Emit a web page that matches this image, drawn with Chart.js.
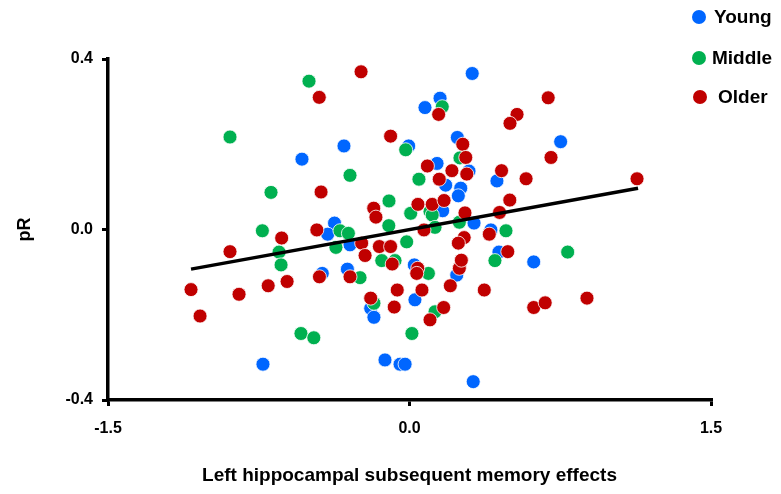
<!DOCTYPE html>
<html lang="en">
<head>
  <meta charset="UTF-8" />
  <title>pR vs left hippocampal subsequent memory effects</title>
  <script src="https://cdn.jsdelivr.net/npm/chart.js"></script>
  <style>
    body {
      margin: 0;
      background: #fff;
    }
    .wrap {
      width: 781px;
      height: 494px;
      position: relative;
    }
  </style>
</head>
<body>
  <div class="wrap">
    <canvas id="scatter"></canvas>
  </div>
  <script>
    // values
    const youngX = [-0.535, -0.326, -0.004, 0.077, 0.152, 0.312, 0.238, 0.137, 0.296, 0.435, 0.180, 0.255,
      0.243, 0.165, 0.321, 0.405, -0.373, -0.407, 0.752, -0.296, -0.434, -0.309, 0.024, 0.027,
      -0.193, -0.177, 0.235, 0.445, 0.618, -0.729, -0.122, -0.047, -0.022, 0.317];
    const youngY = [0.165, 0.196, 0.196, 0.286, 0.308, 0.366, 0.216, 0.155, 0.137, 0.114, 0.104, 0.097,
      0.079, 0.044, 0.015, -0.001, 0.015, -0.011, 0.206, -0.036, -0.103, -0.093, -0.083, -0.165,
      -0.185, -0.206, -0.107, -0.053, -0.076, -0.316, -0.306, -0.316, -0.316, -0.357];

    const middleX = [-0.500, -0.893, -0.689, -0.732, 0.163, -0.019, 0.251, -0.296, 0.047, -0.102, 0.006, 0.102,
      0.113, 0.248, 0.480, -0.103, -0.346, -0.304, 0.127, -0.014, -0.649, -0.639, -0.366, -0.138,
      -0.072, -0.246, 0.094, -0.177, 0.127, 0.425, 0.787, -0.540, -0.476, 0.012];
    const middleY = [0.348, 0.217, 0.087, -0.003, 0.288, 0.187, 0.168, 0.127, 0.118, 0.067, 0.038, 0.042,
      0.034, 0.017, -0.003, 0.009, -0.003, -0.009, 0.005, -0.029, -0.053, -0.083, -0.042, -0.073,
      -0.073, -0.113, -0.103, -0.173, -0.193, -0.073, -0.053, -0.244, -0.254, -0.244];

    const olderX = [-0.449, -0.241, 0.145, 0.535, 0.500, 0.690, -0.094, 0.265, 0.280, 0.089, 0.211, 0.285,
      0.458, 0.148, 0.580, 0.704, 1.132, -0.440, 0.499, -0.178, -0.167, 0.042, 0.113, 0.172,
      0.276, 0.448, -0.461, -0.636, 0.072, 0.397, 0.272, -0.893, -1.087, -1.042, -0.848, -0.703,
      -0.609, -0.448, -0.238, -0.221, -0.150, -0.094, -0.086, -0.296, 0.041, 0.036, -0.061, 0.062,
      -0.193, -0.076, 0.170, 0.102, 0.203, 0.248, 0.258, 0.243, 0.372, 0.489, 0.618, 0.675, 0.883];
    const olderY = [0.310, 0.370, 0.270, 0.270, 0.249, 0.309, 0.219, 0.200, 0.169, 0.149, 0.138, 0.130,
      0.138, 0.118, 0.119, 0.169, 0.119, 0.088, 0.069, 0.050, 0.029, 0.059, 0.059, 0.068,
      0.039, 0.040, -0.001, -0.020, -0.001, -0.011, -0.019, -0.052, -0.141, -0.203, -0.152, -0.132,
      -0.122, -0.111, -0.032, -0.061, -0.040, -0.040, -0.081, -0.111, -0.091, -0.103, -0.142, -0.142,
      -0.161, -0.182, -0.183, -0.212, -0.132, -0.091, -0.072, -0.032, -0.142, -0.052, -0.183, -0.172, -0.161];

    // regression line end points
    const fitX = [-1.087, 1.137];
    const fitY = [-0.093, 0.097];

    const xTicks = [-1.5, 0, 1.5];
    const yTicks = [-0.4, 0, 0.4];

    const groups = ['Young', 'Middle', 'Older'];
    const colors = ['#0066ff', '#00b050', '#c00000'];

    function pts(xs, ys) {
      return xs.map((x, i) => ({ x: x, y: ys[i] }));
    }

    const FONT = 'Arial, "Liberation Sans", sans-serif';

    // legend in the top right corner, stacked
    const sideLegend = {
      id: 'sideLegend',
      afterDraw(chart) {
        const ctx = chart.ctx;
        const rows = [
          { cy: 17, dx: 699, tx: 714 },
          { cy: 58, dx: 699, tx: 712 },
          { cy: 97, dx: 700, tx: 718 }
        ];
        ctx.save();
        ctx.font = 'bold 19px ' + FONT;
        ctx.textBaseline = 'middle';
        ctx.textAlign = 'left';
        groups.forEach((g, i) => {
          ctx.beginPath();
          ctx.arc(rows[i].dx, rows[i].cy, 7, 0, Math.PI * 2);
          ctx.fillStyle = colors[i];
          ctx.fill();
          ctx.fillStyle = '#000';
          ctx.fillText(g, rows[i].tx, rows[i].cy + 1);
        });
        ctx.restore();
      }
    };

    const dot = {
      showLine: false,
      pointRadius: 7,
      pointHoverRadius: 7,
      pointBorderWidth: 0.8,
      pointBorderColor: '#ffffff'
    };

    new Chart(document.getElementById('scatter'), {
      type: 'scatter',
      data: {
        datasets: [
          Object.assign({ label: groups[0], data: pts(youngX, youngY), backgroundColor: colors[0], order: 3 }, dot),
          Object.assign({ label: groups[1], data: pts(middleX, middleY), backgroundColor: colors[1], order: 2 }, dot),
          Object.assign({ label: groups[2], data: pts(olderX, olderY), backgroundColor: colors[2], order: 1 }, dot),
          {
            label: 'fit',
            data: pts(fitX, fitY),
            showLine: true,
            borderColor: '#000',
            borderWidth: 3.5,
            pointRadius: 0,
            order: 0
          }
        ]
      },
      options: {
        responsive: true,
        maintainAspectRatio: false,
        animation: false,
        layout: { padding: { top: 59, right: 70, left: 0, bottom: 0 } },
        plugins: {
          legend: { display: false },
          tooltip: { enabled: false }
        },
        scales: {
          x: {
            type: 'linear',
            min: -1.5,
            max: 1.5,
            afterBuildTicks: (s) => { s.ticks = xTicks.map(v => ({ value: v })); },
            afterFit: (s) => { s.height = 94; },
            border: { color: '#000', width: 3.5 },
            grid: { drawOnChartArea: false, drawTicks: true, tickLength: 6, color: '#000', lineWidth: 3 },
            ticks: {
              color: '#000',
              padding: 13,
              font: { family: FONT, size: 16, weight: 'bold' },
              callback: (v) => v.toFixed(1)
            },
            title: {
              display: true,
              text: 'Left hippocampal subsequent memory effects',
              color: '#000',
              font: { family: FONT, size: 19, weight: 'bold' },
              padding: { top: 0, bottom: 7 }
            }
          },
          y: {
            type: 'linear',
            min: -0.4,
            max: 0.4,
            afterBuildTicks: (s) => { s.ticks = yTicks.map(v => ({ value: v })); },
            afterFit: (s) => { s.width = 108; },
            border: { color: '#000', width: 3.5 },
            grid: { drawOnChartArea: false, drawTicks: true, tickLength: 6, color: '#000', lineWidth: 3 },
            ticks: {
              color: '#000',
              padding: 9,
              font: { family: FONT, size: 16, weight: 'bold' },
              callback: (v) => v.toFixed(1)
            },
            title: {
              display: true,
              text: 'pR',
              color: '#000',
              font: { family: FONT, size: 18, weight: 'bold' },
              padding: { top: 14, bottom: 0 }
            }
          }
        }
      },
      plugins: [sideLegend]
    });
  </script>
</body>
</html>
